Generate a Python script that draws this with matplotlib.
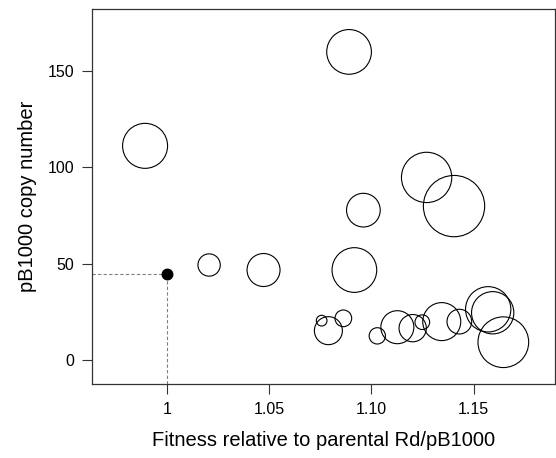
import matplotlib
matplotlib.use("Agg")
import matplotlib.pyplot as plt

plt.rcParams["font.family"] = ["Liberation Sans", "DejaVu Sans"]

# evolved lines: fitness, copy number, bubble diameter (px, as drawn)
fitness = [0.9894, 1.0891, 1.1270, 1.1404, 1.0961, 1.0207, 1.0473, 1.0917,
           1.0757, 1.0790, 1.0863, 1.1029, 1.1127, 1.1202, 1.1249, 1.1344,
           1.1430, 1.1571, 1.1593, 1.1645]
copies = [111.2, 160.0, 94.8, 79.9, 77.8, 49.3, 46.7, 46.7,
          20.4, 15.2, 21.6, 12.5, 17.0, 16.5, 19.6, 19.9,
          19.9, 26.3, 24.5, 9.2]
bubble = [46, 45.7, 51.3, 62.3, 34.7, 23.3, 34, 45.7,
          11.7, 29, 17.7, 17.3, 34, 28.3, 15.7, 39,
          25.7, 46.3, 43.3, 51.7]

# parental Rd/pB1000 reference
parent_fit = 1.0
parent_cn = 44.5

xlim = (0.9636, 1.1897)
ylim = (-12.5, 182.2)
xticks = [1.0, 1.05, 1.10, 1.15]
xticklabels = ["1", "1.05", "1.10", "1.15"]
yticks = [0, 50, 100, 150]

fig = plt.figure(figsize=(5.56, 4.58), dpi=100)
ax = fig.add_axes([0.166, 0.1616, 0.832, 0.8184])

px2pt = 72 / 100
sizes = [((d - 1) * px2pt) ** 2 for d in bubble]
ax.scatter(fitness, copies, s=sizes, facecolors="none", edgecolors="black",
           linewidths=0.8, zorder=3)

# dashed guides to the parental strain
ax.plot([xlim[0], parent_fit], [parent_cn, parent_cn], ls=(0, (3, 2)),
        color="gray", lw=0.8)
ax.plot([parent_fit, parent_fit], [ylim[0], parent_cn], ls=(0, (3, 2)),
        color="gray", lw=0.8)
ax.scatter([parent_fit], [parent_cn], s=(10.5 * px2pt) ** 2, color="black",
           zorder=4)

ax.set_xlim(*xlim)
ax.set_ylim(*ylim)
ax.set_xticks(xticks)
ax.set_xticklabels(xticklabels)
ax.set_yticks(yticks)
ax.tick_params(length=7, width=0.8, pad=6, labelsize=11.5, color="#333333")
for s in ax.spines.values():
    s.set_linewidth(0.9)
    s.set_color("#333333")

ax.set_xlabel("Fitness relative to parental Rd/pB1000", fontsize=14.5,
              labelpad=10)
ax.set_ylabel("pB1000 copy number", fontsize=14.5, labelpad=8)

fig.savefig("out.png", dpi=100)
